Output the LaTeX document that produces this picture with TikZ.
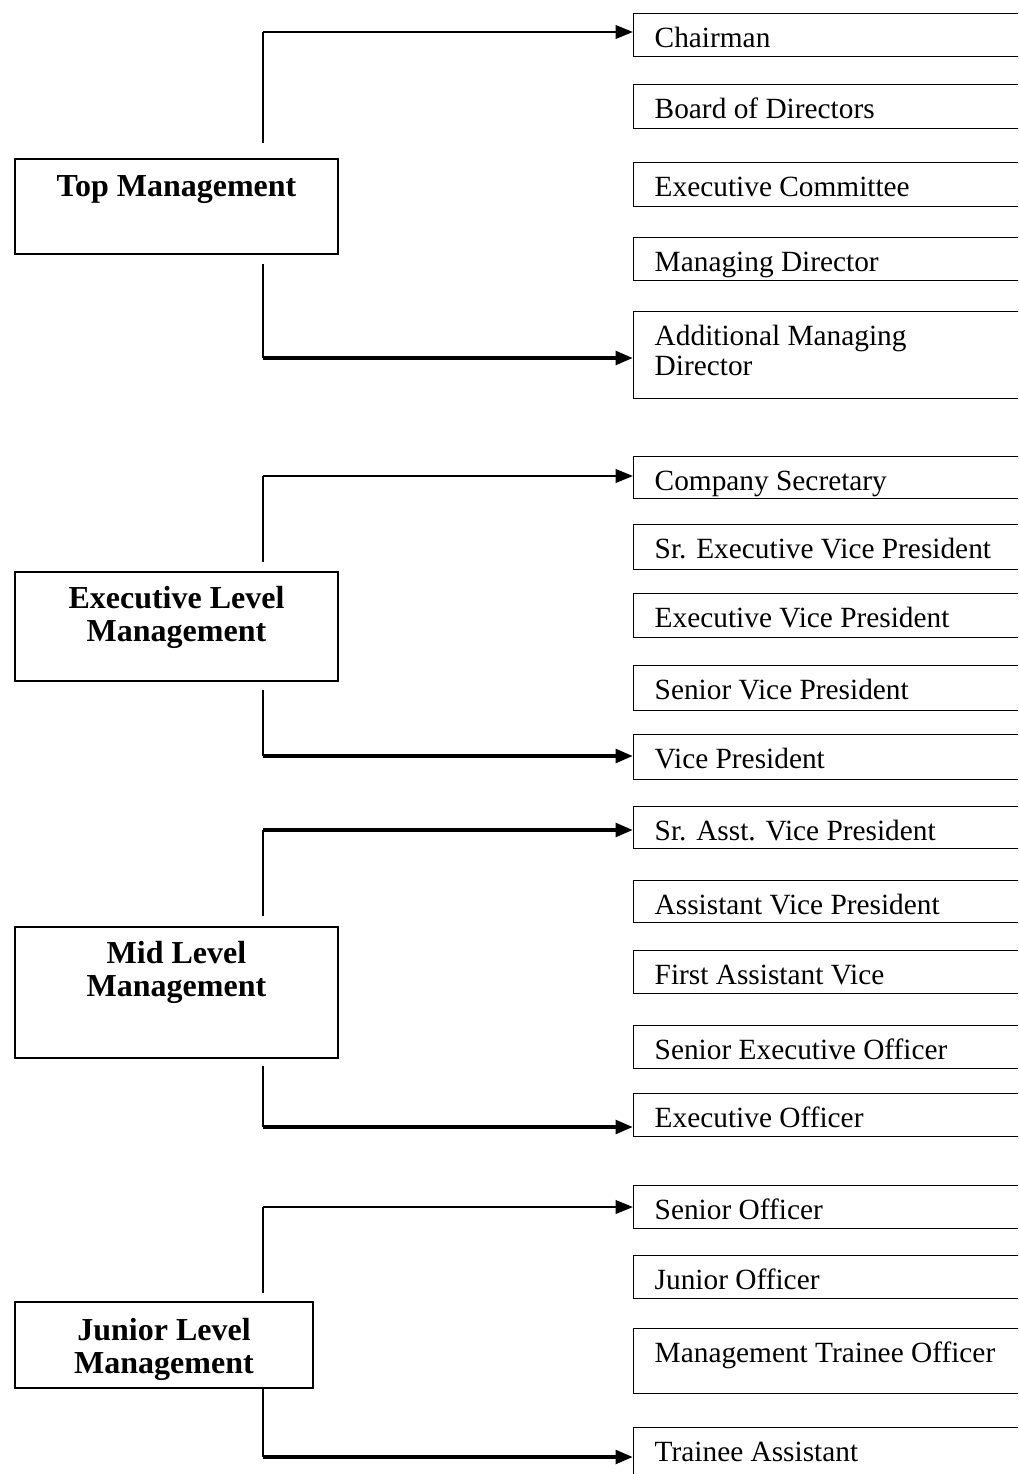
\documentclass[tikz,border=0pt]{standalone}
\usepackage{fontspec}
\setmainfont{Liberation Serif}
\usetikzlibrary{arrows.meta,calc}
\newdimen\pxu \pxu=0.75pt
\tikzset{
 rbox/.style={draw, line width=1.1pt, anchor=north west, inner xsep=21\pxu, inner ysep=0pt, font=\fontsize{22}{22.5}\selectfont},
 lbox/.style={draw, line width=1.1pt, inner sep=0pt, font=\bfseries\fontsize{24}{24.75}\selectfont},
 vline/.style={line width=1.5pt},
 harrow/.style={line width=2pt, -{Triangle[length=13pt,width=10pt]}},
 harrowb/.style={line width=3pt, -{Triangle[length=13pt,width=10pt]}},
}
\newcommand\myrtext[2]{\parbox[c][#1\pxu][t]{350\pxu}{\rule{0pt}{34\pxu}#2}}
\newcommand\myltext[4]{\parbox[c][#2\pxu][t]{#1\pxu}{\centering\rule{0pt}{#3\pxu}#4}}
\begin{document}
\begin{tikzpicture}[x=0.75pt,y=-0.75pt]
\path[use as bounding box, clip] (0,0) rectangle (1018,1474);
\fill[white] (0,0) rectangle (1018,1474);

% left boxes
\node[lbox] (topm) at (176.5,206.5) {\myltext{323}{95}{37}{Top Management}};
\node[lbox] (execm) at (176.5,626.5) {\myltext{323}{109}{36}{Executive Level\\Management}};
\node[lbox] (midm) at (176.5,992.5) {\myltext{323}{131}{36}{Mid Level\\Management}};
\node[lbox] (junm) at (164,1345) {\myltext{298}{86}{38}{Junior Level\\Management}};

% right boxes
\node[rbox] (chair) at (633,13) {\myrtext{43}{Chairman}};
\node[rbox] (board) at (633,84) {\myrtext{44}{Board of Directors}};
\node[rbox] (excom) at (633,162) {\myrtext{44}{Executive Committee}};
\node[rbox] (md) at (633,237) {\myrtext{43}{Managing Director}};
\node[rbox] (amd) at (633,311) {\myrtext{87}{Additional Managing\\Director}};

\node[rbox] (cs) at (633,456) {\myrtext{42}{Company Secretary}};
\node[rbox] (sevp) at (633,524) {\myrtext{45}{Sr. Executive Vice President}};
\node[rbox] (evp) at (633,593) {\myrtext{44}{Executive Vice President}};
\node[rbox] (svp) at (633,665) {\myrtext{45}{Senior Vice President}};
\node[rbox] (vp) at (633,734) {\myrtext{45}{Vice President}};

\node[rbox] (savp) at (633,806) {\myrtext{42}{Sr. Asst. Vice President}};
\node[rbox] (avp) at (633,880) {\myrtext{42}{Assistant Vice President}};
\node[rbox] (fav) at (633,950) {\myrtext{43}{First Assistant Vice}};
\node[rbox] (seo) at (633,1025) {\myrtext{43}{Senior Executive Officer}};
\node[rbox] (eo) at (633,1093) {\myrtext{43}{Executive Officer}};

\node[rbox] (so) at (633,1185) {\myrtext{43}{Senior Officer}};
\node[rbox] (jo) at (633,1255) {\myrtext{43}{Junior Officer}};
\node[rbox] (mto) at (633,1328) {\myrtext{65}{Management Trainee Officer}};
\node[rbox] (ta) at (633,1427) {\myrtext{55}{Trainee Assistant}};

% connector coordinates
\coordinate (t1) at (263,143);  \coordinate (t1c) at (263,32);
\coordinate (t2) at (263,264);  \coordinate (t2c) at (263,358);
\coordinate (e1) at (263,562);  \coordinate (e1c) at (263,476);
\coordinate (e2) at (263,690);  \coordinate (e2c) at (263,756);
\coordinate (m1) at (263,916);  \coordinate (m1c) at (263,830);
\coordinate (m2) at (263,1066); \coordinate (m2c) at (263,1127);
\coordinate (j1) at (263,1293); \coordinate (j1c) at (263,1207);
\coordinate (j2c) at (263,1457);

% connectors
\draw[vline] (t1) -- (t1c);
\draw[harrow] (t1c) -- (t1c -| chair.west);
\draw[vline] (t2) -- (t2c);
\draw[harrowb] (t2c) -- (t2c -| amd.west);

\draw[vline] (e1) -- (e1c);
\draw[harrow] (e1c) -- (e1c -| cs.west);
\draw[vline] (e2) -- (e2c);
\draw[harrowb] (e2c) -- (e2c -| vp.west);

\draw[vline] (m1) -- (m1c);
\draw[harrowb] (m1c) -- (m1c -| savp.west);
\draw[vline] (m2) -- (m2c);
\draw[harrowb] (m2c) -- (m2c -| eo.west);

\draw[vline] (j1) -- (j1c);
\draw[harrow] (j1c) -- (j1c -| so.west);
\draw[vline] (junm.south -| j2c) -- (j2c);
\draw[harrowb] (j2c) -- (j2c -| ta.west);
\end{tikzpicture}
\end{document}
